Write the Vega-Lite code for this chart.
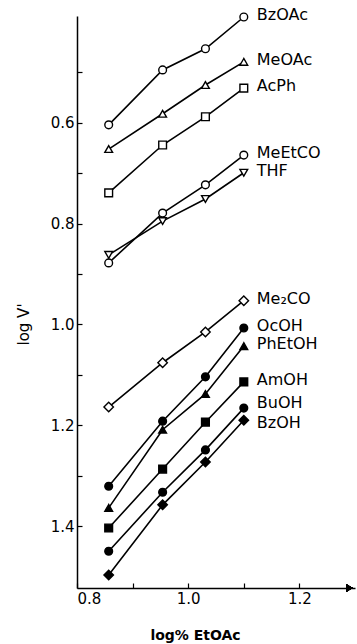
{
  "$schema": "https://vega.github.io/schema/vega-lite/v6.json",
  "width": 278,
  "height": 572,
  "autosize": "none",
  "padding": {"left": 77, "top": 16, "right": 2, "bottom": 56},
  "background": "white",
  "config": {
    "view": {"stroke": null},
    "axis": {
      "grid": false,
      "domainColor": "black",
      "domainWidth": 1.5,
      "tickColor": "black",
      "tickWidth": 1.2,
      "labelColor": "black",
      "titleColor": "black",
      "labelFont": "DejaVu Sans",
      "titleFont": "DejaVu Sans",
      "labelFontSize": 15,
      "titleFontSize": 14,
      "titleFontWeight": "normal"
    }
  },
  "data": {
    "values": [
      {"s": "BzOAc", "x": 0.857, "y": 0.604},
      {"s": "BzOAc", "x": 0.954, "y": 0.495},
      {"s": "BzOAc", "x": 1.031, "y": 0.453},
      {"s": "BzOAc", "x": 1.100, "y": 0.390},
      {"s": "MeOAc", "x": 0.857, "y": 0.652},
      {"s": "MeOAc", "x": 0.954, "y": 0.582},
      {"s": "MeOAc", "x": 1.031, "y": 0.525},
      {"s": "MeOAc", "x": 1.100, "y": 0.479},
      {"s": "AcPh", "x": 0.857, "y": 0.739},
      {"s": "AcPh", "x": 0.954, "y": 0.644},
      {"s": "AcPh", "x": 1.031, "y": 0.588},
      {"s": "AcPh", "x": 1.100, "y": 0.531},
      {"s": "MeEtCO", "x": 0.857, "y": 0.878},
      {"s": "MeEtCO", "x": 0.954, "y": 0.779},
      {"s": "MeEtCO", "x": 1.031, "y": 0.723},
      {"s": "MeEtCO", "x": 1.100, "y": 0.664},
      {"s": "THF", "x": 0.857, "y": 0.862},
      {"s": "THF", "x": 0.954, "y": 0.795},
      {"s": "THF", "x": 1.031, "y": 0.751},
      {"s": "THF", "x": 1.100, "y": 0.699},
      {"s": "Me₂CO", "x": 0.857, "y": 1.164},
      {"s": "Me₂CO", "x": 0.954, "y": 1.076},
      {"s": "Me₂CO", "x": 1.031, "y": 1.015},
      {"s": "Me₂CO", "x": 1.100, "y": 0.953},
      {"s": "OcOH", "x": 0.857, "y": 1.321},
      {"s": "OcOH", "x": 0.954, "y": 1.192},
      {"s": "OcOH", "x": 1.031, "y": 1.104},
      {"s": "OcOH", "x": 1.100, "y": 1.007},
      {"s": "PhEtOH", "x": 0.857, "y": 1.364},
      {"s": "PhEtOH", "x": 0.954, "y": 1.209},
      {"s": "PhEtOH", "x": 1.031, "y": 1.138},
      {"s": "PhEtOH", "x": 1.100, "y": 1.043},
      {"s": "AmOH", "x": 0.857, "y": 1.404},
      {"s": "AmOH", "x": 0.954, "y": 1.287},
      {"s": "AmOH", "x": 1.031, "y": 1.194},
      {"s": "AmOH", "x": 1.100, "y": 1.114},
      {"s": "BuOH", "x": 0.857, "y": 1.450},
      {"s": "BuOH", "x": 0.954, "y": 1.333},
      {"s": "BuOH", "x": 1.031, "y": 1.249},
      {"s": "BuOH", "x": 1.100, "y": 1.166},
      {"s": "BzOH", "x": 0.857, "y": 1.497},
      {"s": "BzOH", "x": 0.954, "y": 1.358},
      {"s": "BzOH", "x": 1.031, "y": 1.273},
      {"s": "BzOH", "x": 1.100, "y": 1.190}
    ]
  },
  "encoding": {
    "x": {
      "field": "x", "type": "quantitative",
      "scale": {"domain": [0.8, 1.3], "nice": false, "zero": false},
      "axis": {
        "values": [0.8, 0.9, 1.0, 1.1, 1.2],
        "labelExpr": "datum.value == 0.9 || datum.value == 1.1 ? '' : format(datum.value, '.1f')",
        "tickSize": -5,
        "labelPadding": 8,
        "title": "log% EtOAc",
        "titleX": 118,
        "titleY": 47,
        "titleBaseline": "middle",
        "titleFontWeight": "bold"
      }
    },
    "y": {
      "field": "y", "type": "quantitative",
      "scale": {"domain": [0.388, 1.523], "nice": false, "zero": false, "reverse": true},
      "axis": {
        "values": [0.5, 0.6, 0.7, 0.8, 0.9, 1.0, 1.1, 1.2, 1.3, 1.4],
        "labelExpr": "indexof([0.6,0.8,1.0,1.2,1.4], round(datum.value*10)/10) >= 0 ? format(datum.value, '.1f') : ''",
        "tickSize": -5,
        "labelPadding": 8,
        "title": "log V'",
        "titleX": -54,
        "titleY": 308,
        "titleFontSize": 15,
        "titleAngle": -90,
        "titleAlign": "center",
        "titleBaseline": "middle"
      }
    }
  },
  "layer": [
    {
      "mark": {"type": "line", "color": "black", "strokeWidth": 1.6},
      "encoding": {"detail": {"field": "s"}}
    },
    {
      "mark": {"type": "point", "stroke": "black", "strokeWidth": 1.4, "opacity": 1, "filled": false},
      "encoding": {
        "shape": {
          "field": "s",
          "scale": {
            "domain": ["BzOAc", "MeOAc", "AcPh", "MeEtCO", "THF", "Me₂CO", "OcOH", "PhEtOH", "AmOH", "BuOH", "BzOH"],
            "range": ["circle", "triangle-up", "square", "circle", "triangle-down", "diamond", "circle", "triangle-up", "square", "circle", "diamond"]
          },
          "legend": null
        },
        "fill": {
          "field": "s",
          "scale": {
            "domain": ["BzOAc", "MeOAc", "AcPh", "MeEtCO", "THF", "Me₂CO", "OcOH", "PhEtOH", "AmOH", "BuOH", "BzOH"],
            "range": ["white", "white", "white", "white", "white", "white", "black", "black", "black", "black", "black"]
          },
          "legend": null
        },
        "size": {
          "field": "s",
          "scale": {
            "type": "ordinal",
            "domain": ["BzOAc", "MeOAc", "AcPh", "MeEtCO", "THF", "Me₂CO", "OcOH", "PhEtOH", "AmOH", "BuOH", "BzOH"],
            "range": [60, 60, 60, 60, 60, 90, 60, 60, 60, 60, 90]
          },
          "legend": null
        }
      }
    },
    {
      "transform": [{"filter": "datum.x > 1.09 && datum.s != 'BuOH' && datum.s != 'BzOH'"}],
      "mark": {"type": "text", "align": "left", "baseline": "middle", "dx": 13, "dy": -2, "font": "DejaVu Sans", "fontSize": 16, "color": "black"},
      "encoding": {"text": {"field": "s"}}
    },
    {
      "transform": [{"filter": "datum.x > 1.09 && datum.s == 'BuOH'"}],
      "mark": {"type": "text", "align": "left", "baseline": "middle", "dx": 13, "dy": -5, "font": "DejaVu Sans", "fontSize": 16, "color": "black"},
      "encoding": {"text": {"field": "s"}}
    },
    {
      "transform": [{"filter": "datum.x > 1.09 && datum.s == 'BzOH'"}],
      "mark": {"type": "text", "align": "left", "baseline": "middle", "dx": 13, "dy": 3, "font": "DejaVu Sans", "fontSize": 16, "color": "black"},
      "encoding": {"text": {"field": "s"}}
    },
    {
      "mark": {"type": "point", "shape": "triangle-right", "filled": true, "color": "black", "size": 60, "opacity": 1},
      "encoding": {"x": {"datum": 1.29}, "y": {"datum": 1.523}}
    }
  ]
}
